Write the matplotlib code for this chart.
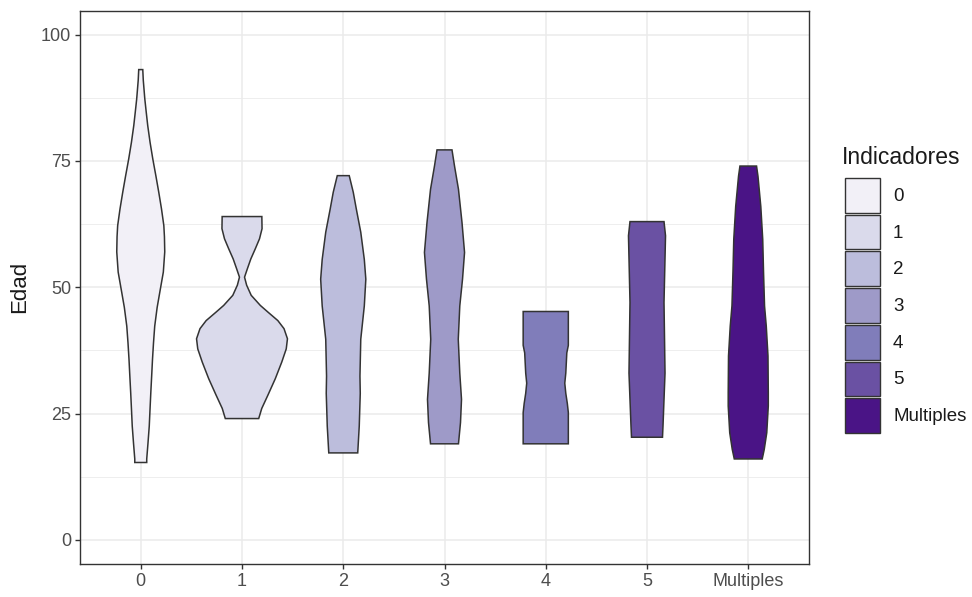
import numpy as np
import matplotlib
matplotlib.use('Agg')
import matplotlib.pyplot as plt
from matplotlib.patches import Rectangle

plt.rcParams['font.family'] = ['Liberation Sans', 'DejaVu Sans']

categorias = ['0', '1', '2', '3', '4', '5', 'Multiples']
colores = ['#F2F0F7', '#DADAEB', '#BCBDDC', '#9E9AC8', '#807DBA', '#6A51A3', '#4A1486']

# perfiles de cada violin: edad y medio ancho (en unidades del eje x)
edad_0 = [15.3, 16, 19, 22.5, 26, 29, 32.5, 35.7, 39, 42.3, 46, 49, 53, 57, 60, 62.2, 65.5,
          68.8, 72, 75.4, 78.7, 82, 84.7, 87.3, 91, 93.1]
ancho_0 = [0.059, 0.059, 0.071, 0.084, 0.092, 0.099, 0.108, 0.116, 0.126, 0.138, 0.162, 0.188,
           0.223, 0.237, 0.234, 0.228, 0.205, 0.178, 0.150, 0.119, 0.092, 0.069, 0.054, 0.040,
           0.025, 0.020]

edad_1 = [24.0, 26.0, 28.6, 31.9, 35.2, 37.8, 39.8, 41.8, 43.4, 45.1, 46.4, 48.4, 50.4, 52.0,
          53.6, 55.6, 57.6, 59.6, 61.6, 64.0]
ancho_1 = [0.165, 0.195, 0.255, 0.329, 0.393, 0.437, 0.449, 0.415, 0.354, 0.255, 0.181, 0.091, 0.046, 0.025,
           0.052, 0.087, 0.131, 0.173, 0.198, 0.196]

edad_2 = [17.2, 22.5, 29, 32.4, 39.7, 46.3, 51.6, 55.5, 60.9, 65.5, 68.8, 72.1]
ancho_2 = [0.143, 0.158, 0.168, 0.165, 0.173, 0.208, 0.223, 0.208, 0.173, 0.129, 0.099, 0.059]

edad_3 = [19, 23.2, 27.8, 33, 39.7, 46.3, 51.6, 56.9, 62.8, 69.4, 74, 77.2]
ancho_3 = [0.138, 0.158, 0.168, 0.151, 0.136, 0.151, 0.178, 0.198, 0.173, 0.138, 0.099, 0.074]

edad_4 = [19, 25.2, 27, 29, 31, 33, 37, 38.5, 45.2]
ancho_4 = [0.223, 0.223, 0.213, 0.198, 0.188, 0.198, 0.208, 0.223, 0.223]

edad_5 = [20.3, 22.5, 33, 47, 60.2, 63]
ancho_5 = [0.153, 0.158, 0.178, 0.168, 0.183, 0.168]

edad_m = [16, 17.9, 21.2, 26.5, 29, 36.4, 42.3, 46.3, 53, 59.5, 66, 72, 74]
ancho_m = [0.138, 0.158, 0.183, 0.198, 0.198, 0.195, 0.178, 0.161, 0.151, 0.143, 0.124, 0.096, 0.082]

edades = [edad_0, edad_1, edad_2, edad_3, edad_4, edad_5, edad_m]
anchos = [ancho_0, ancho_1, ancho_2, ancho_3, ancho_4, ancho_5, ancho_m]

W, H = 972, 597
fig = plt.figure(figsize=(W / 100, H / 100), dpi=100)
ax = fig.add_axes([80 / W, 1 - 563.5 / H, 729 / W, 553 / H])

borde = '#333333'
for i in range(len(categorias)):
    y = np.array(edades[i])
    w = np.array(anchos[i])
    xs = np.concatenate([i - w, (i + w)[::-1]])
    ys = np.concatenate([y, y[::-1]])
    ax.fill(xs, ys, facecolor=colores[i], edgecolor=borde, linewidth=1.1, zorder=3)

ax.set_xlim(-0.6, 6.6)
ax.set_ylim(-4.7, 104.8)
ax.set_xticks(range(len(categorias)))
ax.set_xticklabels(categorias)
ax.set_yticks([0, 25, 50, 75, 100])
ax.set_yticks([12.5, 37.5, 62.5, 87.5], minor=True)
ax.grid(True, which='major', color='#EBEBEB', linewidth=1.1, zorder=0)
ax.grid(True, which='minor', axis='y', color='#EBEBEB', linewidth=0.6, zorder=0)
ax.set_axisbelow(True)
ax.tick_params(axis='both', which='major', length=3.5, width=1, color=borde,
               labelsize=13, labelcolor='#4D4D4D', pad=3)
ax.tick_params(axis='both', which='minor', length=0)
for s in ax.spines.values():
    s.set_color(borde)
    s.set_linewidth(1.0)

fig.text(20 / W, 1 - 287 / H, 'Edad', rotation=90, ha='center', va='center',
         fontsize=16, color='#1A1A1A')

# leyenda
fig.text(842 / W, 1 - 157 / H, 'Indicadores', ha='left', va='center',
         fontsize=16.5, color='#1A1A1A')
alto = 36.7
for i in range(len(categorias)):
    y0 = 178 + i * alto
    fig.patches.append(Rectangle((845 / W, 1 - (y0 + alto - 2) / H), 35 / W, (alto - 2) / H,
                                 transform=fig.transFigure, facecolor=colores[i],
                                 edgecolor=borde, linewidth=1.0))
    fig.text(893 / W, 1 - (y0 + alto / 2) / H, categorias[i], ha='left', va='center',
             fontsize=13.5, color='#1A1A1A')

fig.savefig('out.png', dpi=100)
